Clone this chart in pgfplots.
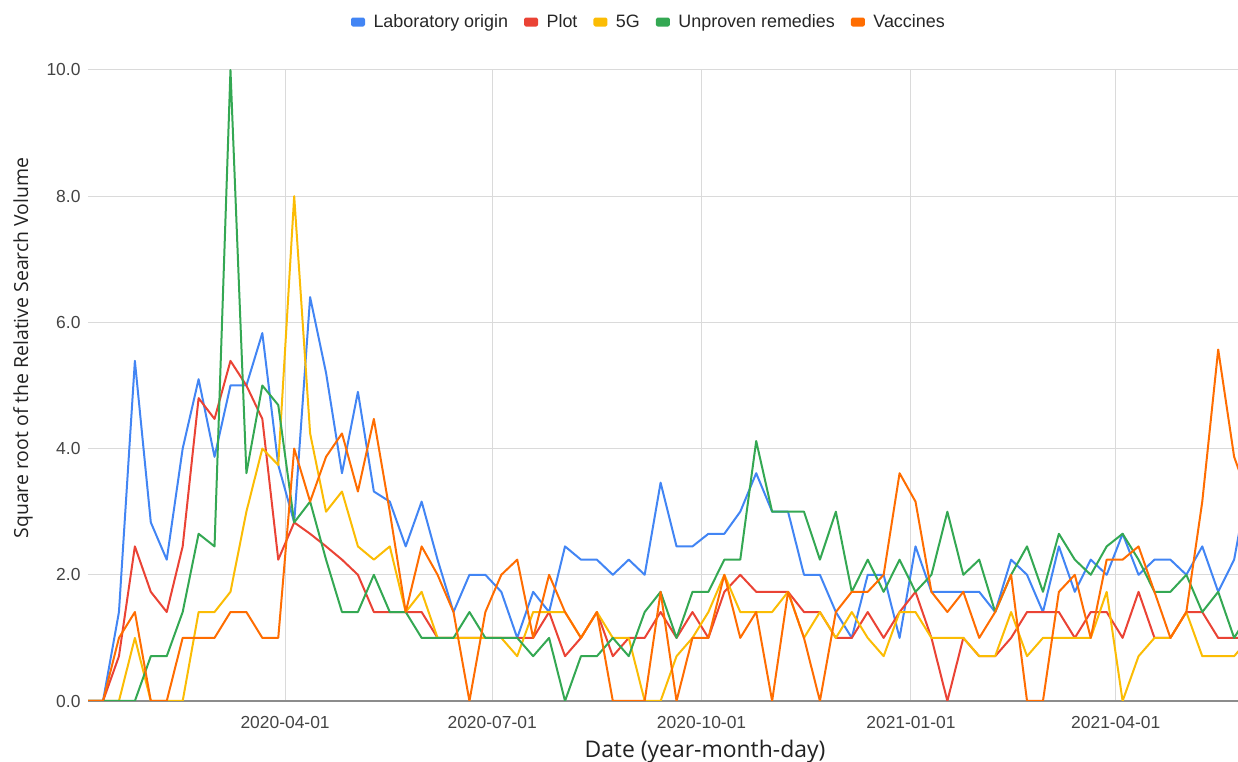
\documentclass[border=0pt]{standalone}
\usepackage{fontspec}
\setmainfont{Liberation Sans}
\newfontfamily\titlefont{Open Sans}
\usepackage{pgfplots}
\pgfplotsset{compat=1.18}
\usepackage{pgfplotstable}

\definecolor{cL}{HTML}{4285F4}
\definecolor{cP}{HTML}{EA4335}
\definecolor{cG}{HTML}{FBBC04}
\definecolor{cU}{HTML}{34A853}
\definecolor{cV}{HTML}{FF6D01}
\definecolor{gridc}{HTML}{DADADA}
\definecolor{basec}{HTML}{8C8C8C}
\definecolor{tickc}{HTML}{444444}
\definecolor{titlec}{HTML}{222222}

% x = day number counted from 2020-01-01 (=0); weekly points
\pgfplotstableread{
x L P G U V
4 0 0 0 0 0
11 0 0 0 0 0
18 1.41 0.71 0 0 1.0
25 5.39 2.45 1.0 0 1.41
32 2.83 1.73 0 0.71 0
39 2.24 1.41 0 0.71 0
46 4.0 2.45 0 1.41 1.0
53 5.10 4.80 1.41 2.65 1.0
60 3.87 4.47 1.41 2.45 1.0
67 5.0 5.39 1.73 10.0 1.41
74 5.0 5.0 3.0 3.61 1.41
81 5.83 4.47 4.0 5.0 1.0
88 3.74 2.24 3.74 4.69 1.0
95 2.83 2.83 8.0 2.83 4.0
102 6.40 2.65 4.24 3.16 3.16
109 5.20 2.45 3.0 2.24 3.87
116 3.61 2.24 3.32 1.41 4.24
123 4.90 2.0 2.45 1.41 3.32
130 3.32 1.41 2.24 2.0 4.47
137 3.16 1.41 2.45 1.41 3.0
144 2.45 1.41 1.41 1.41 1.41
151 3.16 1.41 1.73 1.0 2.45
158 2.24 1.0 1.0 1.0 2.0
165 1.41 1.0 1.0 1.0 1.41
172 2.0 1.0 1.0 1.41 0
179 2.0 1.0 1.0 1.0 1.41
186 1.73 1.0 1.0 1.0 2.0
193 1.0 1.0 0.71 1.0 2.24
200 1.73 1.0 1.41 0.71 1.0
207 1.41 1.41 1.41 1.0 2.0
214 2.45 0.71 1.41 0 1.41
221 2.24 1.0 1.0 0.71 1.0
228 2.24 1.41 1.41 0.71 1.41
235 2.0 0.71 1.0 1.0 0
242 2.24 1.0 1.0 0.71 0
249 2.0 1.0 0 1.41 0
256 3.46 1.41 0 1.73 1.73
263 2.45 1.0 0.71 1.0 0
270 2.45 1.41 1.0 1.73 1.0
277 2.65 1.0 1.41 1.73 1.0
284 2.65 1.73 2.0 2.24 2.0
291 3.0 2.0 1.41 2.24 1.0
298 3.61 1.73 1.41 4.12 1.41
305 3.0 1.73 1.41 3.0 0
312 3.0 1.73 1.73 3.0 1.73
319 2.0 1.41 1.0 3.0 1.0
326 2.0 1.41 1.41 2.24 0
333 1.41 1.0 1.0 3.0 1.41
340 1.0 1.0 1.41 1.73 1.73
347 2.0 1.41 1.0 2.24 1.73
354 2.0 1.0 0.71 1.73 2.0
361 1.0 1.41 1.41 2.24 3.61
368 2.45 1.73 1.41 1.73 3.16
375 1.73 1.0 1.0 2.0 1.73
382 1.73 0 1.0 3.0 1.41
389 1.73 1.0 1.0 2.0 1.73
396 1.73 0.71 0.71 2.24 1.0
403 1.41 0.71 0.71 1.41 1.41
410 2.24 1.0 1.41 2.0 2.0
417 2.0 1.41 0.71 2.45 0
424 1.41 1.41 1.0 1.73 0
431 2.45 1.41 1.0 2.65 1.73
438 1.73 1.0 1.0 2.24 2.0
445 2.24 1.41 1.0 2.0 1.0
452 2.0 1.41 1.73 2.45 2.24
459 2.65 1.0 0 2.65 2.24
466 2.0 1.73 0.71 2.24 2.45
473 2.24 1.0 1.0 1.73 1.73
480 2.24 1.0 1.0 1.73 1.0
487 2.0 1.41 1.41 2.0 1.41
494 2.45 1.41 0.71 1.41 3.16
501 1.73 1.0 0.71 1.73 5.57
508 2.24 1.0 0.71 1.0 3.87
515 3.61 1.0 1.0 1.41 3.16
}\data

\begin{document}
\begin{tikzpicture}
\path[use as bounding box] (0,0) rectangle (1238bp,762bp);
\begin{axis}[
  at={(88bp,61bp)}, anchor=south west,
  scale only axis, width=1150bp, height=631bp,
  xmin=4.4, xmax=509.7, ymin=0, ymax=10,
  axis x line*=bottom, axis y line*=left,
  x axis line style={draw=basec, line width=1.6bp},
  y axis line style={draw=none},
  major tick length=0pt,
  grid=major,
  major grid style={draw=gridc, line width=1bp},
  xtick={91,182,274,366,456},
  xticklabels={2020-04-01,2020-07-01,2020-10-01,2021-01-01,2021-04-01},
  ytick={0,2,4,6,8,10},
  y tick label style={/pgf/number format/fixed, /pgf/number format/fixed zerofill, /pgf/number format/precision=1},
  /pgf/number format/assume math mode=true,
  ticklabel style={font=\fontsize{17.5}{20}\selectfont, text=tickc},
  xticklabel style={anchor=base, yshift=-27bp},
  yticklabel style={xshift=-4bp},
  xlabel={Date (year-month-day)},
  ylabel={Square root of the Relative Search Volume},
  label style={text=titlec, inner sep=0pt},
  xlabel style={font=\titlefont\fontsize{23}{27}\selectfont, at={(axis description cs:0.5365,-0.0903)}, anchor=base},
  ylabel style={font=\titlefont\fontsize{19.5}{23}\selectfont, at={(axis description cs:-0.0565,0.5594)}, anchor=center},
  legend style={at={(axis description cs:0.2287,1.076)}, anchor=west,
    draw=none, fill=none, inner sep=0pt, outer sep=0pt,
    font=\fontsize{18}{21}\selectfont, text=black!85,
    nodes={inner sep=0pt},
    /tikz/every odd column/.append style={column sep=8.5bp},
    /tikz/every even column/.append style={column sep=16bp}},
  legend columns=-1,
  legend image code/.code={\fill[rounded corners=1bp] (0bp,-3.5bp) rectangle (12bp,3.5bp);},
  every axis plot/.append style={line width=2bp, line join=round, mark=none},
]
\addplot[color=cL] table[x=x,y=L] {\data};
\addlegendentry{Laboratory origin}
\addplot[color=cP] table[x=x,y=P] {\data};
\addlegendentry{Plot}
\addplot[color=cG] table[x=x,y=G] {\data};
\addlegendentry{5G}
\addplot[color=cU] table[x=x,y=U] {\data};
\addlegendentry{Unproven remedies}
\addplot[color=cV] table[x=x,y=V] {\data};
\addlegendentry{Vaccines}
\end{axis}
\end{tikzpicture}
\end{document}
